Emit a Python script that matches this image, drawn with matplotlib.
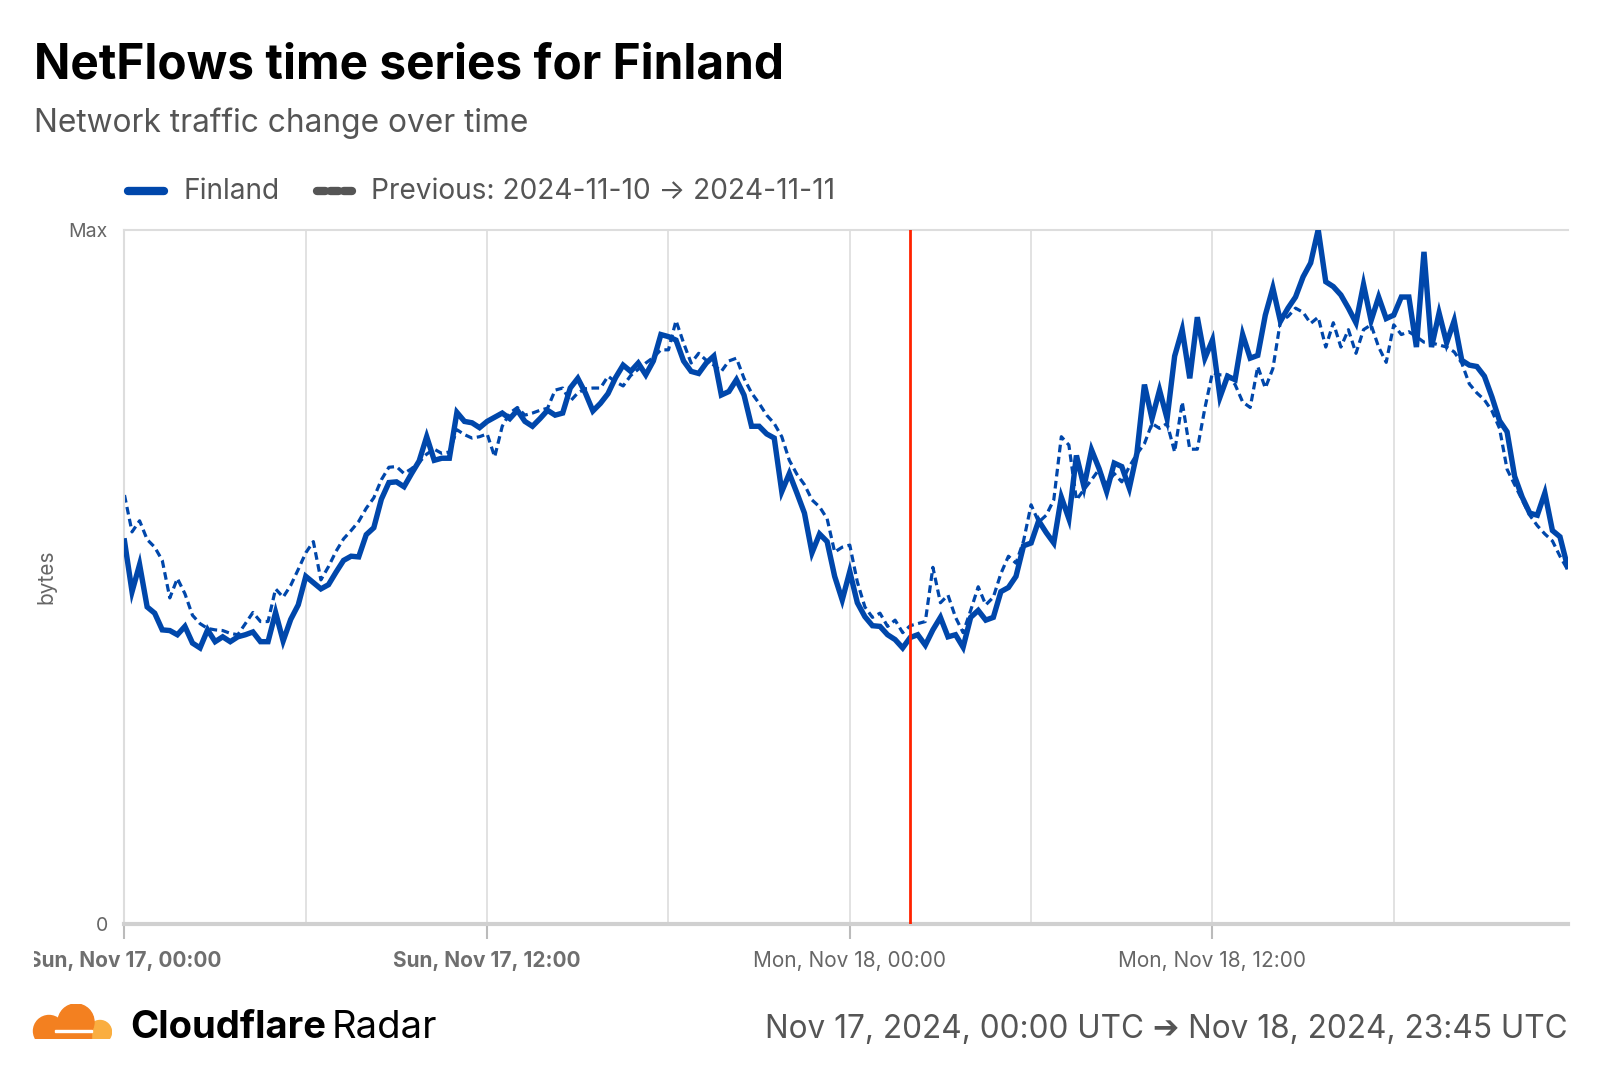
import numpy as np
import pandas as pd
import matplotlib
matplotlib.use("Agg")
import matplotlib.pyplot as plt
from matplotlib.lines import Line2D
from matplotlib.patches import Circle, Rectangle
from matplotlib.transforms import Bbox

plt.rcParams['font.family'] = ['Inter', 'DejaVu Sans']

# values are share of the max (0..100), 15 minute steps, Nov 17 00:00 -> Nov 18 23:45 UTC
finland = [
    55.2, 47.9, 51.8, 45.7, 44.8, 42.4, 42.3, 41.7, 42.9, 40.5, 39.8, 42.4,
    40.7, 41.4, 40.7, 41.4, 41.7, 42.1, 40.7, 40.7, 44.9, 40.8, 43.9, 46.0,
    50.1, 49.2, 48.3, 48.9, 50.7, 52.4, 53.0, 52.9, 56.1, 57.1, 61.2, 63.6,
    63.7, 63.0, 64.9, 66.7, 70.2, 66.8, 67.1, 67.1, 73.7, 72.4, 72.2, 71.5,
    72.4, 73.0, 73.6, 72.8, 74.0, 72.4, 71.7, 72.8, 74.0, 73.3, 73.6, 77.2,
    78.6, 76.5, 73.9, 75.0, 76.4, 78.7, 80.5, 79.6, 80.8, 79.1, 81.1, 84.9,
    84.6, 84.1, 81.1, 79.6, 79.3, 80.8, 81.8, 76.2, 76.7, 78.4, 76.2, 71.7,
    71.7, 70.6, 70.0, 62.3, 64.9, 62.1, 59.2, 53.5, 56.2, 55.1, 50.1, 46.7,
    50.8, 46.3, 44.3, 43.0, 42.9, 41.7, 41.0, 39.8, 41.3, 41.7, 40.2, 42.4,
    44.2, 41.4, 41.7, 39.9, 44.2, 45.2, 43.8, 44.2, 47.9, 48.5, 50.1, 54.5,
    54.9, 58.1, 56.4, 54.9, 61.5, 58.4, 67.5, 63.0, 68.3, 65.6, 62.3, 66.4,
    65.9, 62.8, 67.8, 77.7, 72.8, 76.9, 72.8, 81.8, 85.6, 78.6, 87.4, 81.5,
    84.1, 75.9, 78.9, 78.4, 84.9, 81.5, 81.9, 87.7, 91.6, 86.8, 88.7, 90.3,
    93.2, 95.2, 100.0, 92.5, 91.8, 90.6, 88.7, 86.6, 92.1, 86.9, 90.3, 87.2,
    87.7, 90.3, 90.3, 83.1, 96.8, 83.1, 88.0, 83.7, 86.9, 81.2, 80.5, 80.3,
    78.9, 75.9, 72.5, 70.9, 64.5, 61.5, 59.2, 58.9, 62.1, 56.7, 55.8, 51.5,
]
previous = [
    61.8, 56.5, 58.1, 55.4, 54.3, 52.4, 47.0, 49.8, 47.6, 44.5, 43.3, 42.6,
    42.4, 42.3, 41.9, 41.7, 43.3, 44.9, 43.6, 43.6, 48.3, 47.1, 48.8, 51.1,
    53.5, 55.1, 49.6, 51.5, 53.7, 55.5, 56.7, 58.0, 59.9, 61.4, 64.0, 65.8,
    65.9, 64.9, 65.6, 66.5, 67.7, 68.4, 67.8, 68.0, 71.2, 70.5, 70.0, 70.2,
    70.6, 67.3, 71.7, 73.6, 74.4, 73.3, 73.6, 74.0, 74.3, 76.9, 77.2, 75.3,
    76.5, 77.1, 77.2, 77.2, 78.9, 78.1, 77.5, 79.0, 79.9, 80.8, 81.6, 82.7,
    82.7, 86.9, 83.7, 80.8, 82.2, 81.2, 80.5, 79.6, 81.1, 81.5, 78.6, 76.5,
    75.0, 73.3, 72.1, 70.2, 66.8, 64.8, 63.3, 61.1, 60.1, 58.4, 53.6, 54.3,
    54.6, 49.3, 45.7, 44.2, 44.8, 42.9, 43.8, 42.0, 43.0, 43.3, 43.6, 51.4,
    46.3, 47.4, 44.2, 42.0, 45.2, 48.6, 46.0, 47.1, 50.5, 53.0, 52.0, 55.2,
    60.4, 57.9, 58.9, 61.1, 70.2, 69.0, 61.1, 62.6, 64.0, 65.5, 63.3, 64.9,
    63.7, 65.9, 67.7, 69.2, 72.1, 71.4, 72.1, 68.0, 75.2, 68.4, 68.4, 74.3,
    79.4, 79.1, 79.1, 77.7, 75.2, 74.4, 80.3, 77.2, 80.0, 86.8, 87.5, 88.7,
    88.1, 86.5, 87.4, 83.1, 86.6, 83.1, 85.6, 82.2, 85.6, 86.3, 83.1, 80.9,
    86.3, 84.9, 85.3, 84.6, 83.8, 83.7, 83.4, 83.1, 82.4, 80.8, 77.8, 76.5,
    75.5, 73.9, 71.4, 65.5, 63.3, 61.1, 58.9, 57.4, 56.2, 55.2, 53.0, 51.1,
]
times = pd.date_range('2024-11-17 00:00', periods=len(finland), freq='15min')
marker_time = pd.Timestamp('2024-11-18 02:00')

tick_times = pd.date_range('2024-11-17 00:00', '2024-11-18 12:00', freq='12h')
tick_labels = ['Sun, Nov 17, 00:00', 'Sun, Nov 17, 12:00',
               'Mon, Nov 18, 00:00', 'Mon, Nov 18, 12:00']
tick_bold = [True, True, False, False]
grid_times = pd.date_range('2024-11-17 06:00', '2024-11-18 18:00', freq='6h')

BLUE = '#0047AB'
GRAY = '#666666'

fig = plt.figure(figsize=(16, 10.72), dpi=100)
ax = fig.add_axes([0.0778, 0.1376, 0.9019, 0.6482])

for t in grid_times:
    ax.axvline(t, color='#dddddd', lw=1.2, zorder=0)

ax.plot(times, previous, color=BLUE, lw=2.3, dashes=(2.4, 1.4), zorder=2)
ax.plot(times, finland, color=BLUE, lw=3.9, solid_joinstyle='miter', zorder=3)
ax.axvline(marker_time, color='#ff2200', lw=2.0, zorder=4)

ax.set_xlim(times[0], times[-1])
ax.set_ylim(0, 100)
ax.set_yticks([0, 100])
ax.set_yticklabels(['0', 'Max'])
ax.tick_params(axis='y', length=0, pad=12, labelsize=14, labelcolor=GRAY)
ax.set_ylabel('bytes', color=GRAY, fontsize=15)
ax.yaxis.set_label_coords(-0.047, 0.5)

ax.set_xticks(tick_times)
ax.set_xticklabels(tick_labels)
ax.tick_params(axis='x', length=11, width=1.5, color='#bbbbbb', pad=8,
               labelsize=15, labelcolor=GRAY)
for lab, b in zip(ax.get_xticklabels(), tick_bold):
    lab.set_fontweight('bold' if b else 'normal')
    if b:
        lab.set_color('#6f6f6f')
# first label is cut at the left edge in the original
first = ax.get_xticklabels()[0]
first.set_clip_box(Bbox.from_extents(34, 0, 1600, 1072))
first.set_clip_on(True)

ax.spines['right'].set_visible(False)
ax.spines['top'].set_color('#dddddd')
ax.spines['top'].set_linewidth(1.5)
ax.spines['left'].set_color('#dddddd')
ax.spines['left'].set_linewidth(1.5)
ax.spines['bottom'].set_color('#d0d0d0')
ax.spines['bottom'].set_linewidth(3)

# titles
fig.text(0.021, 0.9267, 'NetFlows time series for Finland', fontsize=34.4,
         fontweight='bold', color='black', va='baseline')
fig.text(0.021, 0.877, 'Network traffic change over time', fontsize=22.8,
         color='#555555', va='baseline')

# legend
ly = 1 - 191 / 1072
fig.add_artist(Line2D([128 / 1600, 164 / 1600], [ly, ly], color=BLUE, lw=6,
                      solid_capstyle='round'))
fig.text(184 / 1600, ly, 'Finland', fontsize=20.2, color='#555555', va='center')
fig.add_artist(Line2D([317 / 1600, 352 / 1600], [ly, ly], color='#555555', lw=6,
                      dashes=(1.0, 0.6), dash_capstyle='round'))
fig.text(371 / 1600, ly, 'Previous: 2024-11-10 \u2192 2024-11-11', fontsize=20.2,
         color='#555555', va='center')

# footer
cf = fig.text(130 / 1600, 0.032, 'Cloudflare', fontsize=27.5, fontweight='bold',
              color='black', va='baseline')
fig.canvas.draw()
cf_box = cf.get_window_extent()
fig.text((cf_box.x1 + 6) / 1600, 0.032, 'Radar', fontsize=27.5, color='black',
         va='baseline')
fig.text(0.9797, 0.032, 'Nov 17, 2024, 00:00 UTC \u2794 Nov 18, 2024, 23:45 UTC',
         fontsize=22.7, color='#555555', ha='right', va='baseline')

# cloudflare logo
lax = fig.add_axes([32 / 1600, 1 - 1039 / 1072, 80 / 1600, 35 / 1072])
lax.set_xlim(0, 80)
lax.set_ylim(0, 35)
lax.set_aspect('equal')
lax.axis('off')
clip = Rectangle((0, 0), 80, 35, transform=lax.transData)
for c in [Circle((68, 7), 11.5, color='#FAAE40'),
          Circle((44, 17), 18, color='#F38020'),
          Circle((17, 8), 15.5, color='#F38020'),
          Rectangle((4, 0), 55, 10, color='#F38020')]:
    lax.add_patch(c)
    c.set_clip_path(clip)
lax.add_patch(Rectangle((23, 7.3), 37, 2.0, color='white', zorder=6))

fig.savefig('out.png', dpi=100)
